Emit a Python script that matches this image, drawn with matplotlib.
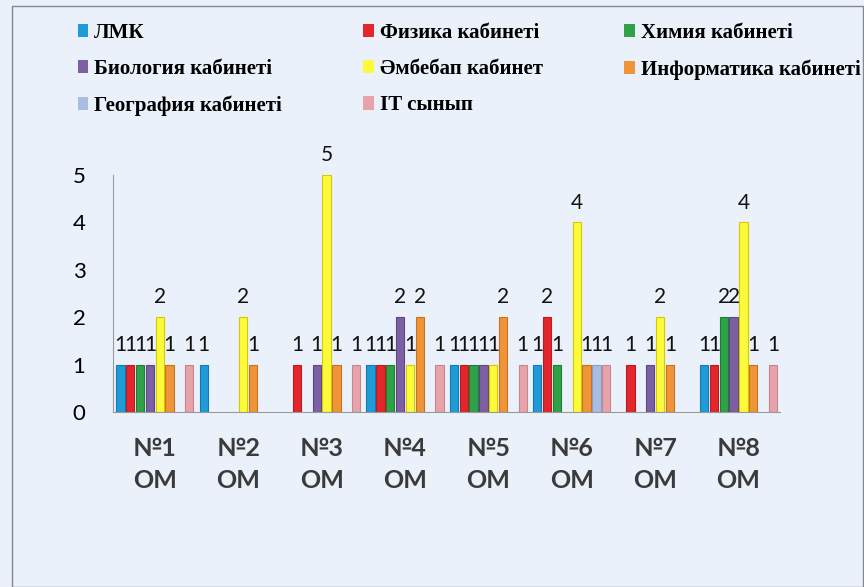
import numpy as np
import matplotlib.pyplot as plt
from matplotlib.patches import Rectangle

# Categories and series (NaN = no bar)
groups = ['№1\nОМ', '№2\nОМ', '№3\nОМ', '№4\nОМ', '№5\nОМ', '№6\nОМ', '№7\nОМ', '№8\nОМ']
series_names = ['ЛМК', 'Физика кабинеті', 'Химия кабинеті', 'Биология кабинеті',
                'Әмбебап кабинет', 'Информатика кабинеті', 'География кабинеті', 'IT сынып']
n = np.nan
lmk         = [1, 1, n, 1, 1, 1, n, 1]
fizika      = [1, n, 1, 1, 1, 2, 1, 1]
himiya      = [1, n, n, 1, 1, 1, n, 2]
biologiya   = [1, n, 1, 2, 1, n, 1, 2]
ambebap     = [2, 2, 5, 1, 1, 4, 2, 4]
informatika = [1, 1, 1, 2, 2, 1, 1, 1]
geografiya  = [n, n, n, n, n, 1, n, n]
it_synyp    = [1, n, 1, 1, 1, 1, n, 1]
values = [lmk, fizika, himiya, biologiya, ambebap, informatika, geografiya, it_synyp]

colors = ['#1f9bd7', '#e3262b', '#2ea247', '#7d5fa3', '#fbfb3c', '#ef9439', '#a9bde2', '#e7a2aa']
edges = ['#137bb0', '#b81c20', '#1f7d35', '#5e4681', '#d8c800', '#c9721e', '#8a9fc7', '#c7858d']

bg = '#eaf1fa'
fig = plt.figure(figsize=(8.64, 5.87), dpi=100, facecolor=bg)
ax = fig.add_axes([0.131, 0.298, 0.772, 0.404], facecolor=bg)

x = np.arange(len(groups))
slot = 0.118
width = 0.1
for i, (name, vals) in enumerate(zip(series_names, values)):
    pos = x + (i - 3.5) * slot
    bars = ax.bar(pos, vals, width, color=colors[i], edgecolor=edges[i], linewidth=0.8, label=name)
    labels = ['' if np.isnan(v) else f'{int(v)}' for v in vals]
    ax.bar_label(bars, labels=labels, padding=7, fontsize=15, family='Lato', color='#111111')

ax.set_xlim(-0.5, 7.5)
ax.set_ylim(0, 5)
ax.set_yticks([0, 1, 2, 3, 4, 5])
ax.tick_params(axis='y', length=0, labelsize=16, pad=20)
for t in ax.get_yticklabels():
    t.set_family('Lato')
ax.set_xticks(x)
ax.set_xticklabels(groups, fontsize=18, fontweight='bold', family='Lato', color='#3a3a3a', linespacing=1.45)
ax.tick_params(axis='x', length=0, pad=18)
for s in ['top', 'right']:
    ax.spines[s].set_visible(False)
ax.spines['left'].set_color('#999999')
ax.spines['bottom'].set_color('#999999')

# legend at the top, three columns
handles, labs = ax.get_legend_handles_labels()
order = [0, 3, 6, 1, 4, 7, 2, 5]
leg = fig.legend([handles[k] for k in order], [labs[k] for k in order], ncol=3,
                 loc='upper left', bbox_to_anchor=(0.068, 0.993), frameon=False,
                 prop={'family': 'Liberation Serif', 'weight': 'bold', 'size': 15},
                 handlelength=0.5, handleheight=0.6, handletextpad=0.3,
                 columnspacing=3.9, labelspacing=0.78)
for h in leg.legend_handles:
    h.set_edgecolor('none')

# outer frame of the chart
fig.patches.append(Rectangle((0.014, 0.0), 0.985, 0.99, transform=fig.transFigure,
                             fill=False, edgecolor='#888888', linewidth=1))

plt.savefig('out.png', dpi=100, facecolor=bg)
